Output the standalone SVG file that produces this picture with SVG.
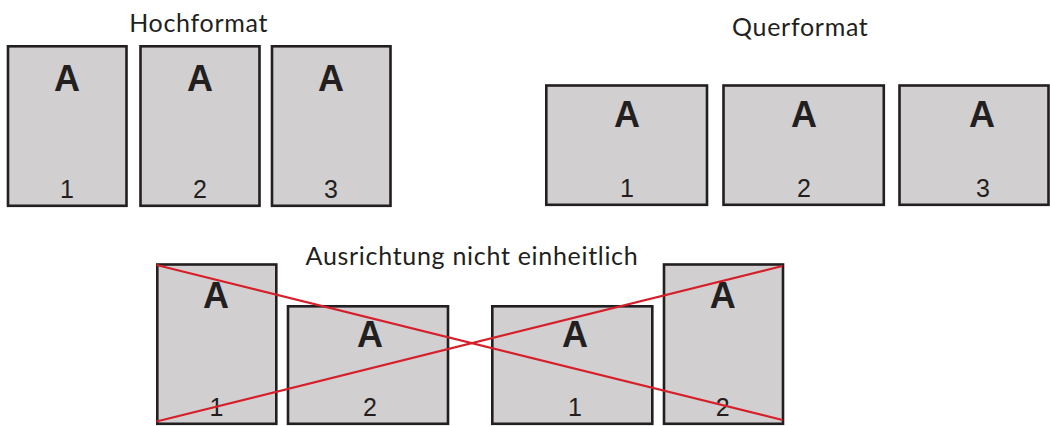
<svg xmlns="http://www.w3.org/2000/svg" width="1050" height="426" viewBox="0 0 1050 426">
<style>
.page{fill:#d1cfd0;stroke:#231f20;stroke-width:2.6}
.title{font-family:Lato,"Open Sans",sans-serif;font-size:25px;letter-spacing:0.7px;fill:#231f20;text-anchor:middle}
.big{font-family:"Liberation Sans",Arial,sans-serif;font-weight:bold;font-size:36px;fill:#231f20;text-anchor:middle}
.num{font-family:"Liberation Sans",Arial,sans-serif;font-size:25px;fill:#231f20;text-anchor:middle}
.cross{stroke:#d71f2b;stroke-width:2.2;fill:none}
</style>
<rect width="1050" height="426" fill="#ffffff"/>
<g id="titles">
<text class="title" x="198.7" y="32">Hochformat</text>
<text class="title" x="800.3" y="36">Querformat</text>
<text class="title" x="472" y="264.5">Ausrichtung nicht einheitlich</text>
</g>
<g id="hoch-1"><rect class="page" x="8" y="46.3" width="118.5" height="159.5"/><text class="big" x="67" y="90.5">A</text><text class="num" x="67" y="198">1</text></g>
<g id="hoch-2"><rect class="page" x="140.5" y="46.3" width="119" height="159.5"/><text class="big" x="200" y="90.5">A</text><text class="num" x="200" y="198">2</text></g>
<g id="hoch-3"><rect class="page" x="272" y="46.3" width="118.5" height="159.5"/><text class="big" x="331" y="90.5">A</text><text class="num" x="331" y="198">3</text></g>
<g id="quer-1"><rect class="page" x="546.3" y="85.5" width="160.7" height="119.3"/><text class="big" x="627" y="126.5">A</text><text class="num" x="627" y="196.5">1</text></g>
<g id="quer-2"><rect class="page" x="723.5" y="85.5" width="160.3" height="119.3"/><text class="big" x="804" y="126.5">A</text><text class="num" x="804" y="196.5">2</text></g>
<g id="quer-3"><rect class="page" x="899.5" y="85.5" width="149" height="119.3"/><text class="big" x="982" y="126.5">A</text><text class="num" x="983" y="196.5">3</text></g>
<g id="mix-1"><rect class="page" x="157.3" y="264.5" width="119" height="159.3"/><text class="big" x="216" y="308.3">A</text><text class="num" x="216.5" y="416">1</text></g>
<g id="mix-2"><rect class="page" x="288" y="306.3" width="160" height="117.5"/><text class="big" x="370" y="346.7">A</text><text class="num" x="370" y="416">2</text></g>
<g id="mix-3"><rect class="page" x="492.3" y="306.3" width="160" height="117.5"/><text class="big" x="575" y="347">A</text><text class="num" x="575" y="416">1</text></g>
<g id="mix-4"><rect class="page" x="664" y="264.5" width="119" height="159.3"/><text class="big" x="722.7" y="307.7">A</text><text class="num" x="722.7" y="416">2</text></g>
<g id="connectors">
<line class="cross" x1="156.5" y1="265" x2="782.5" y2="420"/>
<line class="cross" x1="156.5" y1="421.5" x2="782.5" y2="266"/>
</g>
</svg>
